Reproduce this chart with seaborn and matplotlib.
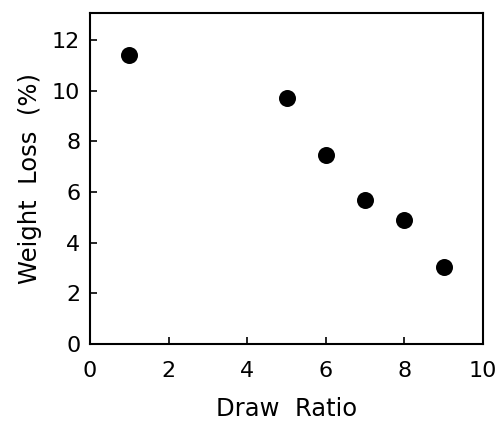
import matplotlib
matplotlib.use("Agg")
import matplotlib.pyplot as plt
import seaborn as sns
import pandas as pd

# ─── Data ─────────────────────────────────────────────────────────────────────

draw_ratio = [1, 5, 6, 7, 8, 9]
weight_loss = [11.4, 9.7, 7.45, 5.7, 4.9, 3.05]

x_ticks = [0, 2, 4, 6, 8, 10]
y_ticks = [0, 2, 4, 6, 8, 10, 12]

df = pd.DataFrame({"Draw Ratio": draw_ratio, "Weight Loss": weight_loss})

# ─── Plot ─────────────────────────────────────────────────────────────────────

sns.set_style("ticks")
plt.rcParams["font.family"] = ["DejaVu Sans"]

fig = plt.figure(figsize=(5, 4.22), dpi=100)
ax = fig.add_axes([0.18, 0.185, 0.786, 0.784])

sns.scatterplot(data=df, x="Draw Ratio", y="Weight Loss", ax=ax,
                color="black", s=150, edgecolor="black", linewidth=0, zorder=3)

ax.set_xlim(0, 10)
ax.set_ylim(0, 13.07)
ax.set_xticks(x_ticks)
ax.set_yticks(y_ticks)
ax.tick_params(direction="in", length=5, width=1.2, labelsize=16,
               colors="black", top=False, right=False, pad=7)
ax.tick_params(axis="x", pad=12)
for sp in ax.spines.values():
    sp.set_linewidth(1.5)
    sp.set_color("black")

ax.set_xlabel("Draw  Ratio", fontsize=17.5, color="black", labelpad=12)
ax.set_ylabel("Weight  Loss  (%)", fontsize=17.5, color="black", labelpad=7)

plt.savefig("out.png", dpi=100)
